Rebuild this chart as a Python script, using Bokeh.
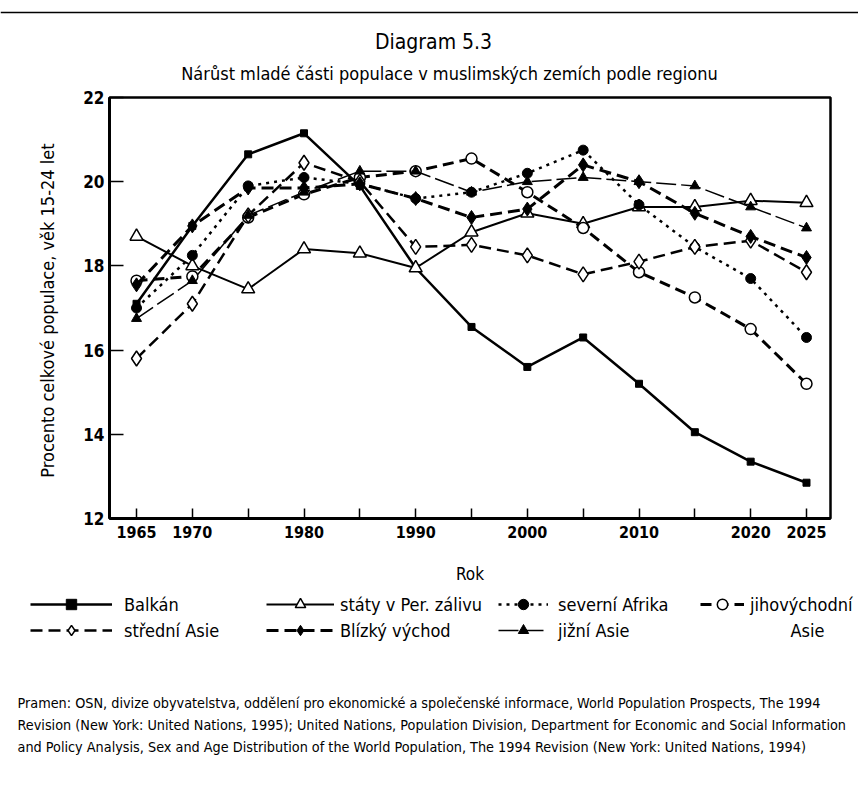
from bokeh.plotting import figure
from bokeh.models import FixedTicker, Legend, LegendItem, Range1d
from bokeh.layouts import column
from bokeh.embed import file_html
from bokeh.resources import INLINE
from bokeh.core.properties import value

# ---------------- data ----------------
years = [1965, 1970, 1975, 1980, 1985, 1990, 1995, 2000, 2005, 2010, 2015, 2020, 2025]
balkan = [17.1, 18.95, 20.65, 21.15, 19.9, 17.95, 16.55, 15.6, 16.3, 15.2, 14.05, 13.35, 12.85]
per_zaliv = [18.7, 18.0, 17.45, 18.4, 18.3, 17.95, 18.8, 19.25, 19.0, 19.4, 19.4, 19.55, 19.5]
sev_afrika = [17.0, 18.25, 19.9, 20.1, 19.95, 19.6, 19.75, 20.2, 20.75, 19.45, 18.45, 17.7, 16.3]
jv_asie = [17.65, 17.75, 19.15, 19.7, 20.1, 20.25, 20.55, 19.75, 18.9, 17.85, 17.25, 16.5, 15.2]
str_asie = [15.8, 17.1, 19.2, 20.45, 20.0, 18.45, 18.5, 18.25, 17.8, 18.1, 18.45, 18.6, 17.85]
blizky = [17.55, 18.95, 19.85, 19.85, 19.95, 19.6, 19.15, 19.35, 20.4, 20.0, 19.25, 18.7, 18.2]
jizni = [16.75, 17.65, 19.2, 19.75, 20.25, 20.25, 19.75, 20.0, 20.1, 20.0, 19.9, 19.4, 18.9]

y_ticks = [12, 14, 16, 18, 20, 22]
x_ticks = years
x_labels = {1975: "", 1985: "", 1995: "", 2005: "", 2015: ""}

title1 = "Diagram 5.3"
title2 = "Nárůst mladé části populace v muslimských zemích podle regionu"
y_title = "Procento  celkové populace, věk 15-24 let"
x_title = "Rok"
footnote = [
    "Pramen: OSN, divize obyvatelstva, oddělení pro ekonomické a společenské informace, World Population Prospects, The 1994",
    "Revision (New York: United Nations, 1995); United Nations, Population Division, Department for Economic and Social Information",
    "and Policy Analysis, Sex and Age Distribution of the World Population, The 1994 Revision (New York: United Nations, 1994)",
]

FONT = "DejaVu Sans Condensed, Liberation Sans, sans-serif"

W = 858
H_TOP, H_MAIN, H_BOT = 87, 501, 190


def bare(fig):
    fig.xaxis.visible = False
    fig.yaxis.visible = False
    fig.xgrid.visible = False
    fig.ygrid.visible = False
    fig.outline_line_color = None
    fig.min_border_left = 0
    fig.min_border_right = 0
    fig.min_border_top = 0
    fig.min_border_bottom = 0
    fig.frame_align = False


# ---------------- header ----------------
pt = figure(width=W, height=H_TOP, x_range=Range1d(0, W), y_range=Range1d(0, H_TOP),
            output_backend="svg", toolbar_location=None)
bare(pt)
pt.segment(x0=[0], x1=[W], y0=[H_TOP - 12], y1=[H_TOP - 12], line_color="black", line_width=1.5)
pt.text(x=[433], y=[H_TOP - 41], text=[title1], text_font=value(FONT), text_font_size="21px",
        text_align="center", text_baseline="middle", text_color="black")
pt.text(x=[449], y=[H_TOP - 73], text=[title2], text_font=value(FONT), text_font_size="18px",
        text_align="center", text_baseline="middle", text_color="black")

# ---------------- main chart ----------------
p = figure(width=W, height=H_MAIN, x_range=Range1d(1962.58, 2027.15), y_range=Range1d(12, 22),
           output_backend="svg", toolbar_location=None,
           min_border_left=109, min_border_right=W - 830, min_border_top=10, min_border_bottom=70)
p.frame_align = False
p.xgrid.visible = False
p.ygrid.visible = False
p.outline_line_color = "black"
p.outline_line_width = 2.5

for ax in (p.xaxis[0], p.yaxis[0]):
    ax.axis_line_width = 3
    ax.axis_line_color = "black"
    ax.major_tick_out = 0
    ax.minor_tick_in = 0
    ax.minor_tick_out = 0
    ax.major_tick_line_width = 1.5
    ax.major_tick_line_color = "black"
    ax.major_label_text_font = FONT
    ax.major_label_text_font_style = "bold"
    ax.major_label_text_color = "black"
    ax.axis_label_text_font = FONT
    ax.axis_label_text_font_style = "normal"
    ax.axis_label_text_color = "black"
    ax.major_label_standoff = 5

p.xaxis.ticker = FixedTicker(ticks=x_ticks)
p.xaxis.major_label_overrides = x_labels
p.xaxis.major_tick_in = 10
p.xaxis.major_label_text_font_size = "16px"
p.xaxis.major_label_standoff = 7
p.xaxis.axis_label = x_title
p.xaxis.axis_label_text_font_size = "17px"
p.xaxis.axis_label_standoff = 23

p.yaxis.ticker = FixedTicker(ticks=y_ticks)
p.yaxis.major_tick_in = 14
p.yaxis.major_label_text_font_size = "17px"
p.yaxis.axis_label = y_title
p.yaxis.axis_label_text_font_size = "18px"
p.yaxis.axis_label_standoff = 22

series = [
    ("Balkán", balkan, dict(line_width=2.5), dict(marker="square", size=7, fill_color="black", line_color="black")),
    ("státy v Per. zálivu", per_zaliv, dict(line_width=2), dict(marker="triangle", size=13, fill_color="white", line_color="black", line_width=1.5)),
    ("severní Afrika", sev_afrika, dict(line_width=2.5, line_dash="3 5"), dict(marker="circle", size=10, fill_color="black", line_color="black")),
    ("jihovýchodní", jv_asie, dict(line_width=3, line_dash="11 6"), dict(marker="circle", size=11, fill_color="white", line_color="black", line_width=1.5)),
    ("střední Asie", str_asie, dict(line_width=2.5, line_dash="12 6"), dict(marker="diamond", size=15, fill_color="white", line_color="black", line_width=1.5)),
    ("Blízký východ", blizky, dict(line_width=3, line_dash="12 6"), dict(marker="diamond", size=14, fill_color="black", line_color="black")),
    ("jižní Asie", jizni, dict(line_width=1.5, line_dash="20 5"), dict(marker="triangle", size=10, fill_color="black", line_color="black")),
]

for name, vals, lkw, mkw in series:
    p.line(years, vals, line_color="black", **lkw)
    p.scatter(years, vals, **mkw)

# ---------------- legend + footnote ----------------
pb = figure(width=W, height=H_BOT, x_range=Range1d(0, W), y_range=Range1d(0, H_BOT),
            output_backend="svg", toolbar_location=None)
bare(pb)

items = {}
for name, vals, lkw, mkw in series:
    # same series, lying outside this panel's ranges: only their legend keys show
    lr = pb.line(years, vals, line_color="black", **lkw)
    sr = pb.scatter(years, vals, **mkw)
    items[name] = LegendItem(label=name, renderers=[lr, sr])


def make_legend(names, vx, vy, gw, standoff):
    lg = Legend(items=[items[n] for n in names], location=(vx, vy),
                glyph_width=gw, glyph_height=26, spacing=0, padding=0, margin=0,
                label_standoff=standoff, label_height=26,
                label_text_font=FONT, label_text_font_size="18px",
                label_text_color="black",
                border_line_alpha=0, background_fill_alpha=0)
    pb.add_layout(lg, "center")


make_legend(["Balkán", "střední Asie"], 30, 135, 82, 12)
make_legend(["státy v Per. zálivu", "Blízký východ"], 266, 135, 68, 6)
make_legend(["severní Afrika", "jižní Asie"], 498, 135, 50, 10)
make_legend(["jihovýchodní"], 700, 161, 44, 6)

pb.text(x=[790], y=[H_BOT - 42], text=["Asie"], text_font=value(FONT), text_font_size="18px",
        text_align="left", text_baseline="middle", text_color="black")
pb.text(x=[17, 17, 17], y=[H_BOT - 114, H_BOT - 136, H_BOT - 158], text=footnote,
        text_font=value(FONT), text_font_size="14.3px", text_align="left",
        text_baseline="middle", text_color="black")

layout = column(pt, p, pb, spacing=0)
open("out.html", "w").write(file_html(layout, INLINE))
